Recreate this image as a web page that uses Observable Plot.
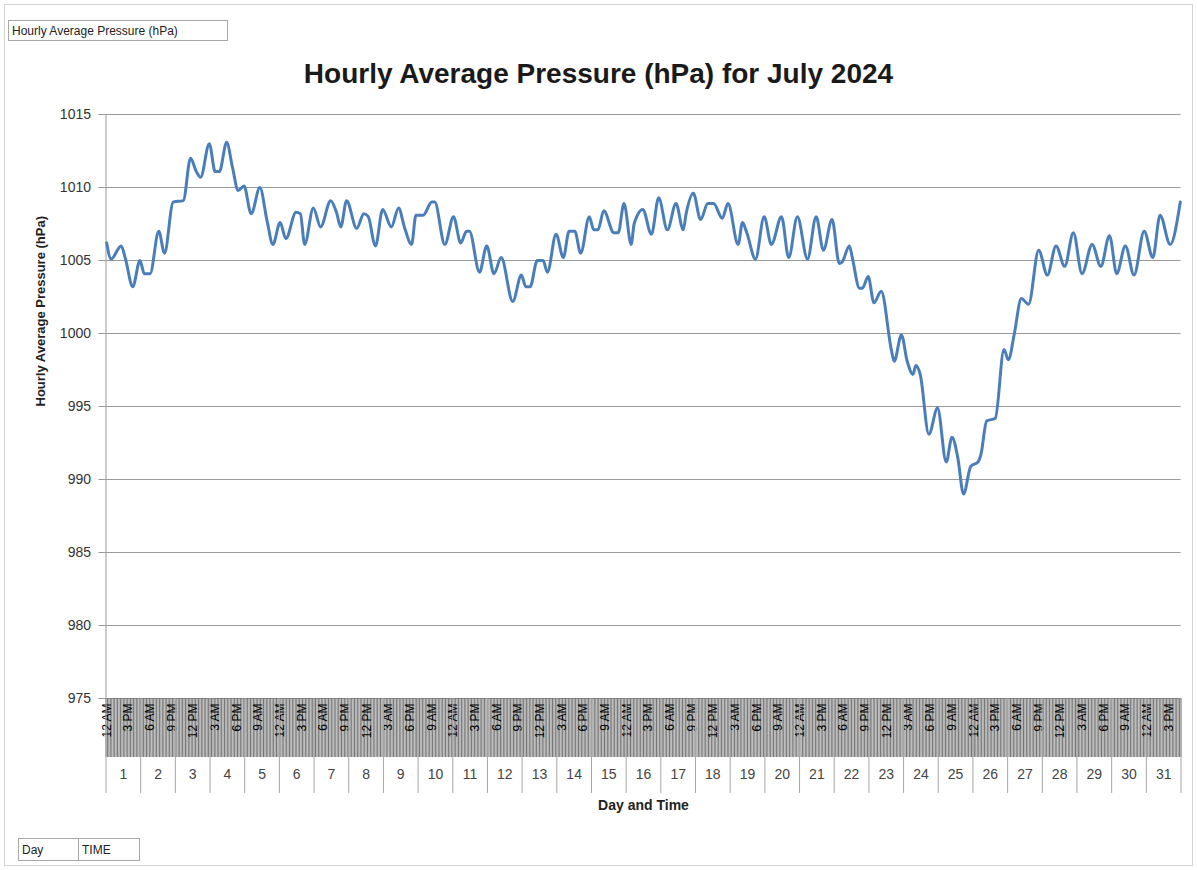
<!DOCTYPE html>
<html>
<head>
<meta charset="utf-8">
<script src="https://cdn.jsdelivr.net/npm/d3@7"></script>
<script src="https://cdn.jsdelivr.net/npm/@observablehq/plot@0.6"></script>
<style>
  html, body { margin: 0; padding: 0; background: #fff; }
  #wrap { position: relative; width: 1197px; height: 870px; overflow: hidden;
          font-family: "Liberation Sans", "DejaVu Sans", sans-serif; }
  #chart { position: absolute; left: 0; top: 0; }
  #border { position: absolute; left: 4px; top: 4px; width: 1189px; height: 862px;
            border: 1px solid #d4d4d4; box-sizing: border-box; pointer-events: none; }
  #title { position: absolute; left: 0; top: 58px; width: 1197px; text-align: center;
           font-weight: bold; font-size: 28px; color: #1a1a1a; white-space: nowrap; }
  .btn { position: absolute; border: 1px solid #a8a8a8; font-size: 12px; color: #222;
         padding: 0 3px; height: 21px; line-height: 20px; box-sizing: border-box;
         background: #fff; white-space: nowrap; }
</style>
</head>
<body>
<div id="wrap">
  <div id="chart"></div>
  <div id="border"></div>
  <div id="title">Hourly Average Pressure (hPa) for July 2024</div>
  <div class="btn" style="left:8px; top:20px; width:220px;">Hourly Average Pressure (hPa)</div>
  <div class="btn" style="left:18px; top:838px; width:61px; height:23px; line-height:22px;">Day</div>
  <div class="btn" style="left:78px; top:838px; width:62px; height:23px; line-height:22px;">TIME</div>
</div>
<script>
// ---- data (hour index within July 2024, 0 = Jul 1 12 AM) ----
const hours = [
  0, 3, 10, 13, 18, 23, 26, 30, 36, 40,
  46, 53, 58, 62, 65, 71, 75, 78, 83, 87,
  91, 95, 100, 106, 111, 115, 120, 124, 131, 134,
  137, 143, 148, 155, 159, 162, 166, 173, 178, 181,
  186, 191, 197, 202, 206, 211, 214, 219, 225, 227,
  234, 240, 245, 249, 251, 258, 263, 268, 273, 281,
  287, 290, 293, 298, 302, 305, 311, 316, 320, 324,
  328, 334, 337, 340, 344, 351, 354, 358, 363, 365,
  371, 377, 382, 388, 394, 399, 401, 406, 411, 416,
  420, 426, 430, 437, 440, 443, 449, 455, 460, 467,
  472, 478, 485, 491, 496, 502, 507, 509, 514, 516,
  521, 523, 527, 531, 536, 543, 545, 550, 554, 558,
  560, 563, 569, 575, 581, 585, 589, 593, 598, 603,
  605, 609, 615, 621, 624, 628, 633, 638, 645, 651,
  657, 663, 669, 675, 682, 688, 694, 699, 705, 711,
  718, 724, 729, 736, 743
];
const pressure = [
  1006.2, 1005.1, 1006.0, 1005.1, 1003.2, 1005.0, 1004.1, 1004.1, 1007.0, 1005.5,
  1009.0, 1009.1, 1012.0, 1011.1, 1010.7, 1013.0, 1011.1, 1011.1, 1013.1, 1011.4,
  1009.8, 1010.1, 1008.2, 1010.0, 1007.7, 1006.1, 1007.6, 1006.5, 1008.3, 1008.2,
  1006.1, 1008.6, 1007.3, 1009.1, 1008.3, 1007.3, 1009.1, 1007.2, 1008.2, 1008.0,
  1006.0, 1008.5, 1007.3, 1008.6, 1007.3, 1006.1, 1008.1, 1008.1, 1009.0, 1009.0,
  1006.1, 1008.0, 1006.2, 1007.0, 1007.0, 1004.2, 1006.0, 1004.1, 1005.2, 1002.2,
  1004.0, 1003.2, 1003.2, 1005.0, 1005.0, 1004.2, 1006.8, 1005.2, 1007.0, 1007.0,
  1005.5, 1008.0, 1007.1, 1007.1, 1008.4, 1006.9, 1006.9, 1008.9, 1006.1, 1007.5,
  1008.5, 1006.8, 1009.3, 1007.1, 1008.9, 1007.1, 1008.2, 1009.6, 1007.8, 1008.9,
  1008.9, 1007.9, 1008.9, 1006.1, 1007.6, 1006.9, 1005.1, 1008.0, 1006.1, 1008.0,
  1005.2, 1008.0, 1005.1, 1008.0, 1005.7, 1007.8, 1004.8, 1004.9, 1006.0, 1005.2,
  1003.1, 1003.1, 1003.9, 1002.1, 1002.9, 998.9, 998.1, 999.9, 998.1, 997.2,
  997.8, 997.2, 993.1, 994.9, 991.2, 992.9, 991.5, 989.0, 990.9, 991.2,
  991.7, 994.0, 994.2, 998.9, 998.2, 999.9, 1002.4, 1002.0, 1005.7, 1004.0,
  1006.0, 1004.6, 1006.9, 1004.1, 1006.1, 1004.6, 1006.7, 1004.1, 1006.0, 1004.0,
  1007.0, 1005.2, 1008.1, 1006.1, 1009.0
];
const days = [1,2,3,4,5,6,7,8,9,10,11,12,13,14,15,16,17,18,19,20,21,22,23,24,25,26,27,28,29,30,31];
const yTicks = [975, 980, 985, 990, 995, 1000, 1005, 1010, 1015];
const timeTickHours = [
  0, 15, 30, 45, 60, 75, 90, 105, 120, 135, 150, 165, 180, 195, 210, 225, 240,
  255, 270, 285, 300, 315, 330, 345, 360, 375, 390, 405, 420, 435, 450, 465, 480,
  495, 510, 525, 540, 555, 570, 585, 600, 615, 630, 645, 660, 675, 690, 705, 720, 735
];
const timeLabels = [
  "12 AM","3 PM","6 AM","9 PM","12 PM","3 AM","6 PM","9 AM",
  "12 AM","3 PM","6 AM","9 PM","12 PM","3 AM","6 PM","9 AM",
  "12 AM","3 PM","6 AM","9 PM","12 PM","3 AM","6 PM","9 AM",
  "12 AM","3 PM","6 AM","9 PM","12 PM","3 AM","6 PM","9 AM",
  "12 AM","3 PM","6 AM","9 PM","12 PM","3 AM","6 PM","9 AM",
  "12 AM","3 PM","6 AM","9 PM","12 PM","3 AM","6 PM","9 AM",
  "12 AM","3 PM"
];

// ---- derived tables ----
const HOURS_PER_DAY = 24;
const totalHours = days.length * HOURS_PER_DAY;
const rows = hours.map((h, i) => ({hour: h + 0.5, value: pressure[i]}));
const hourBoundaries = d3.range(totalHours + 1);
const dayBoundaries = d3.range(days.length + 1).map(d => d * HOURS_PER_DAY);
const labelAt = new Map(timeTickHours.map((h, i) => [h + 0.5, timeLabels[i]]));
const font = '"Liberation Sans", "DejaVu Sans", sans-serif';

const chart = Plot.plot({
  width: 1197,
  height: 870,
  marginLeft: 105.5,
  marginRight: 16.5,
  marginTop: 114,
  marginBottom: 172,
  style: {fontFamily: font, fontSize: "12px", color: "#222", background: "transparent", overflow: "visible"},
  x: {domain: [0, totalHours], axis: null},
  y: {domain: [975, 1015], axis: null},
  marks: [
    // horizontal gridlines
    Plot.gridY(yTicks, {stroke: "#9a9a9a", strokeOpacity: 1}),
    // y axis ticks + labels
    Plot.axisY(yTicks, {tickSize: 7, tickPadding: 8, stroke: "#9a9a9a", fill: "#333",
                        fontSize: 14, tickFormat: d => String(d), label: null}),
    // y axis line
    Plot.ruleX([0], {stroke: "#9a9a9a"}),
    // hourly category ticks forming the grey band
    Plot.axisX(hourBoundaries, {tickSize: 59, stroke: "#777", fill: "none"}),
    // time labels inside the band
    Plot.axisX(timeTickHours.map(h => h + 0.5), {
      tickSize: 0, tickRotate: -90, tickPadding: 5, fontSize: 12, fill: "#000",
      tickFormat: d => labelAt.get(d), label: null
    }),
    // day separators
    Plot.axisX(dayBoundaries, {tickSize: 95, stroke: "#a6a6a6", fill: "none"}),
    // day labels
    Plot.text(days, {x: d => (d - 1) * HOURS_PER_DAY + HOURS_PER_DAY / 2, text: d => String(d),
                     frameAnchor: "bottom", dy: 80, fontSize: 14, fill: "#444"}),
    // axis titles
    Plot.text(["Day and Time"], {frameAnchor: "bottom", dy: 111, fontSize: 14,
                                 fontWeight: "bold", fill: "#222"}),
    Plot.text(["Hourly Average Pressure (hPa)"], {frameAnchor: "left", dx: -65, rotate: -90,
                                 fontSize: 13, fontWeight: "bold", fill: "#222"}),
    // the series
    Plot.line(rows, {x: "hour", y: "value", stroke: "#4a7ebb", strokeWidth: 3,
                     curve: "monotone-x", strokeLinejoin: "round", strokeLinecap: "round"})
  ]
});
document.getElementById("chart").appendChild(chart);
</script>
</body>
</html>
